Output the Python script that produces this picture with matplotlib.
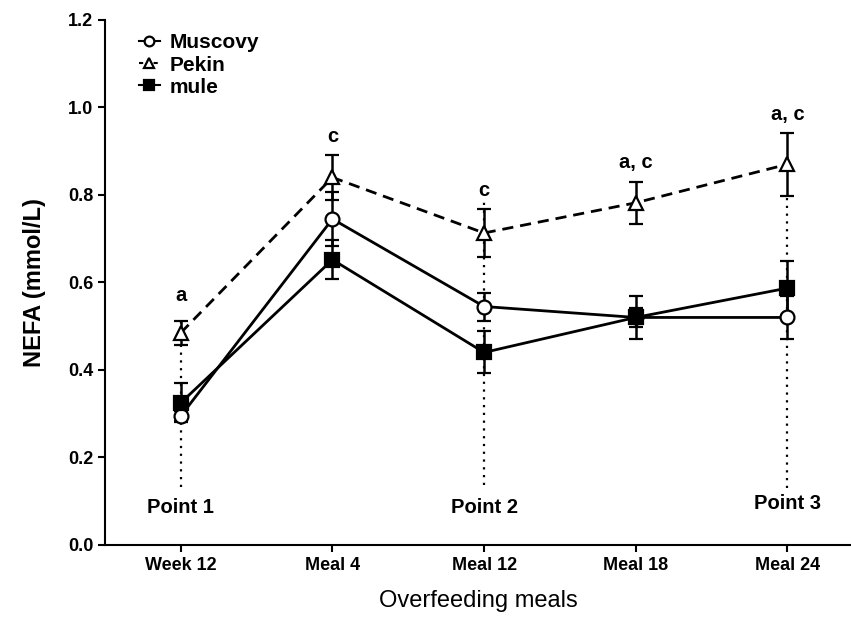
import matplotlib
matplotlib.use("Agg")
import matplotlib.pyplot as plt
from matplotlib.lines import Line2D
import numpy as np

plt.rcParams['font.family'] = ['Liberation Sans', 'DejaVu Sans']

# data
meals = ["Week 12", "Meal 4", "Meal 12", "Meal 18", "Meal 24"]
muscovy = [0.295, 0.745, 0.545, 0.520, 0.520]
muscovy_err = [0.012, 0.062, 0.032, 0.022, 0.050]
pekin = [0.485, 0.840, 0.713, 0.782, 0.870]
pekin_err = [0.028, 0.052, 0.055, 0.048, 0.072]
mule = [0.325, 0.652, 0.440, 0.520, 0.587]
mule_err = [0.045, 0.045, 0.048, 0.050, 0.062]

# significance letters: (x index, y, text)
letters = [(0, 0.571, "a"), (1, 0.933, "c"), (2, 0.811, "c"),
           (3, 0.873, "a, c"), (4, 0.983, "a, c")]
# sampling points: (x index, dotted from, dotted to, label y, label)
points = [(0, 0.133, 0.52, 0.085, "Point 1"),
          (2, 0.137, 0.79, 0.085, "Point 2"),
          (4, 0.130, 0.80, 0.094, "Point 3")]

fig = plt.figure(figsize=(8.51, 6.38), dpi=100)
ax = fig.add_axes([0.1234, 0.1458, 0.8766, 0.823])
X = np.arange(len(meals))

for xi, y0, y1, ly, lab in points:
    ax.plot([xi, xi], [y0, y1], color="black", linestyle=(0, (1, 2.5)), lw=1.6, zorder=1)
    ax.text(xi, ly, lab, ha="center", va="center", fontsize=14.5, fontweight="bold")

common = dict(color="black", lw=2.0, elinewidth=1.8, capsize=5, capthick=1.8,
              markersize=10, markeredgewidth=1.6, zorder=3)
ax.errorbar(X, muscovy, yerr=muscovy_err, marker="o", mfc="white", ls="-", **common)
ax.errorbar(X, pekin, yerr=pekin_err, marker="^", mfc="white", ls=(0, (4, 2.5)), **common)
ax.errorbar(X, mule, yerr=mule_err, marker="s", mfc="black", ls="-", **common)

for xi, y, t in letters:
    ax.text(xi, y, t, ha="center", va="center", fontsize=14.5, fontweight="bold")

ax.set_xlim(-0.5, 4.42)
ax.set_ylim(0, 1.2)
ax.set_yticks(np.arange(0, 1.21, 0.2))
ax.set_yticklabels([f"{v:.1f}" for v in np.arange(0, 1.21, 0.2)],
                   fontsize=13, fontweight="bold")
ax.set_xticks(X)
ax.set_xticklabels(meals, fontsize=13, fontweight="bold")
ax.tick_params(direction="out", length=5, width=1.5)
for s in ["top", "right"]:
    ax.spines[s].set_visible(False)
for s in ["left", "bottom"]:
    ax.spines[s].set_linewidth(1.5)

ax.set_ylabel("NEFA (mmol/L)", fontsize=17, fontweight="bold", labelpad=16)
ax.set_xlabel("Overfeeding meals", fontsize=17, labelpad=12)

handles = [
    Line2D([], [], color="black", lw=1.5, marker="o", mfc="white", ms=7, mew=1.6),
    Line2D([], [], color="black", lw=1.5, ls=(0, (2, 1.5)), marker="^", mfc="white", ms=7, mew=1.6),
    Line2D([], [], color="black", lw=1.5, marker="s", mfc="black", ms=7, mew=1.6),
]
ax.legend(handles, ["Muscovy", "Pekin", "mule"], loc="upper left",
          bbox_to_anchor=(0.02, 1.01), frameon=False,
          handlelength=1.0, handletextpad=0.5, labelspacing=0.15,
          prop={"size": 15, "weight": "bold"})

fig.savefig("out.png", dpi=100)
